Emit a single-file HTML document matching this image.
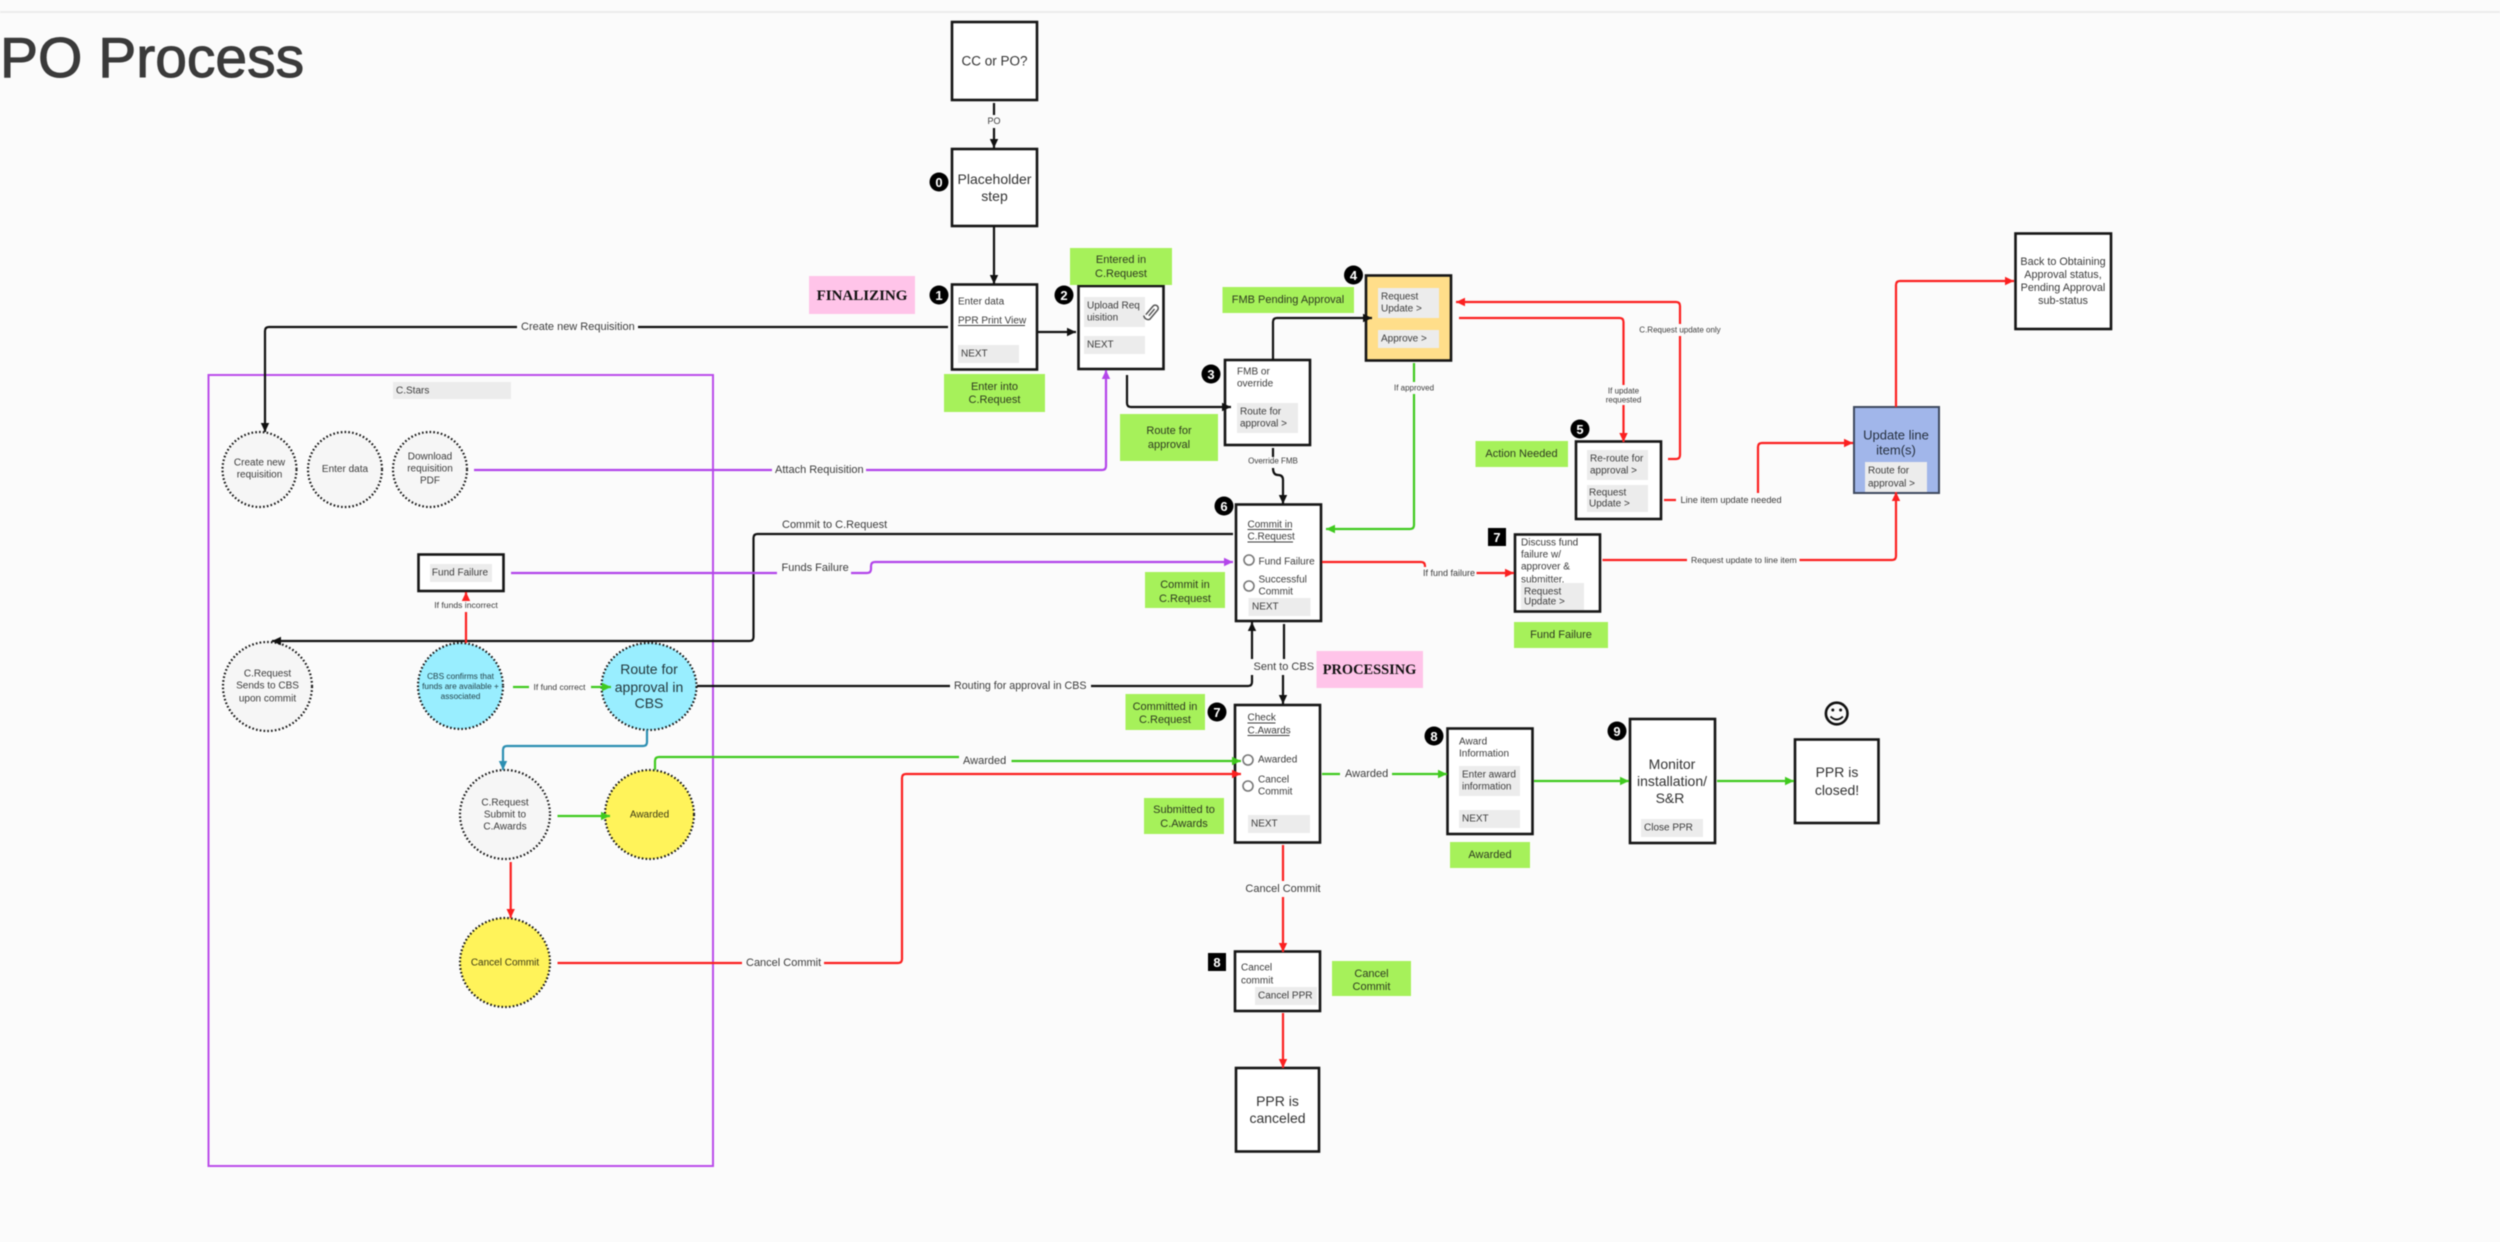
<!DOCTYPE html>
<html><head><meta charset="utf-8"><title>PO Process</title>
<style>
html,body{margin:0;padding:0;background:#fbfbfb;width:2500px;height:1242px;overflow:hidden}
svg{display:block;filter:blur(.55px)}
text{font-family:"Liberation Sans",sans-serif;fill:#3c3c3c;font-size:10px;dominant-baseline:central}
.m{text-anchor:middle}
.g{fill:#a6f15a}
.gt{font-size:11px;fill:#2e3a20;text-anchor:middle}
.b{fill:#fff;stroke:#151515;stroke-width:2.6}
.gr{fill:#ececec}
.l{fill:none;stroke-width:2.2;stroke-linejoin:round}
.k{stroke:#111}.r{stroke:#fb2020}.pu{stroke:#b345ea}.gn{stroke:#3fca1e}.bl{stroke:#2c8fb2}
.c{stroke:#151515;stroke-width:2.2;stroke-dasharray:1.6 2.2;stroke-linecap:butt}
.bd{fill:#000}
.bt{fill:#fff;font-size:13px;font-weight:bold;text-anchor:middle}
.s{font-size:8px}
.big{font-size:14px;text-anchor:middle;fill:#333}
.ser{font-family:"Liberation Serif",serif;font-weight:bold;font-size:15px;fill:#111;text-anchor:middle}
.ul{stroke:#3c3c3c;stroke-width:1}
</style></head><body>
<svg width="2500" height="1242" viewBox="0 0 2500 1242" xmlns="http://www.w3.org/2000/svg">
<defs>
<marker id="ak" markerUnits="userSpaceOnUse" markerWidth="10" markerHeight="10" refX="9" refY="5" orient="auto"><path d="M0 .8L9 5L0 9.2z" fill="#111"/></marker>
<marker id="ar" markerUnits="userSpaceOnUse" markerWidth="10" markerHeight="10" refX="9" refY="5" orient="auto"><path d="M0 .8L9 5L0 9.2z" fill="#fb2020"/></marker>
<marker id="ap" markerUnits="userSpaceOnUse" markerWidth="10" markerHeight="10" refX="9" refY="5" orient="auto"><path d="M0 .8L9 5L0 9.2z" fill="#b345ea"/></marker>
<marker id="ag" markerUnits="userSpaceOnUse" markerWidth="10" markerHeight="10" refX="9" refY="5" orient="auto"><path d="M0 .8L9 5L0 9.2z" fill="#3fca1e"/></marker>
<marker id="ab" markerUnits="userSpaceOnUse" markerWidth="10" markerHeight="10" refX="9" refY="5" orient="auto"><path d="M0 .8L9 5L0 9.2z" fill="#2c8fb2"/></marker>
</defs>
<rect width="2500" height="1242" fill="#fbfbfb"/>
<rect x="0" y="11" width="2500" height="2" fill="#ececec"/>
<text x="0" y="58" style="font-size:57px;fill:#3a3a3a;stroke:#3a3a3a;stroke-width:1">PO Process</text>

<!-- C.Stars container -->
<rect x="208.5" y="375" width="504.5" height="791" fill="none" stroke="#bb4dea" stroke-width="2"/>
<rect class="gr" x="393" y="382" width="118" height="17"/>
<text x="396" y="391">C.Stars</text>

<!-- Boxes -->
<rect class="b" x="952" y="22" width="85" height="78"/>
<text class="big" x="994.5" y="61" style="font-size:13.5px">CC or PO?</text>
<rect class="b" x="952" y="149" width="85" height="77"/>
<text class="big" x="994.5" y="179">Placeholder</text><text class="big" x="994.5" y="196">step</text>

<rect class="b" x="952" y="284.5" width="85" height="85"/>
<text x="958" y="302">Enter data</text>
<text x="958" y="321">PPR Print View</text><path class="ul" d="M958 325.5H1025"/>
<rect class="gr" x="958" y="345" width="61" height="18"/><text x="961" y="354">NEXT</text>

<rect class="b" x="1078.5" y="286" width="85" height="83"/>
<rect class="gr" x="1084" y="297" width="61" height="30"/>
<text x="1087" y="306">Upload Req</text><text x="1087" y="318">uisition</text>
<rect class="gr" x="1084" y="336" width="61" height="18"/><text x="1087" y="345">NEXT</text>
<g transform="rotate(40 1152 312)" fill="none" stroke="#555" stroke-width="1.5"><path d="M1149 318V307a3 3 0 0 1 6 0v12a4.5 4.5 0 0 1-7 1"/><path d="M1152 308v9"/></g>

<rect class="b" x="1225" y="360" width="85" height="85"/>
<text x="1237" y="372">FMB or</text><text x="1237" y="384">override</text>
<rect class="gr" x="1237" y="403" width="61" height="30"/>
<text x="1240" y="412">Route for</text><text x="1240" y="424">approval &gt;</text>

<rect x="1366" y="275.5" width="85" height="85" fill="#ffde8a" stroke="#151515" stroke-width="2.6"/>
<rect class="gr" x="1378" y="288" width="61" height="30"/>
<text x="1381" y="297">Request</text><text x="1381" y="309">Update &gt;</text>
<rect class="gr" x="1378" y="330" width="61" height="18"/><text x="1381" y="339">Approve &gt;</text>

<rect class="b" x="1576" y="441.5" width="85" height="77.5"/>
<rect class="gr" x="1587" y="450" width="61" height="30"/>
<text x="1590" y="459">Re-route for</text><text x="1590" y="471">approval &gt;</text>
<rect class="gr" x="1587" y="485" width="61" height="27"/>
<text x="1589" y="493">Request</text><text x="1589" y="504">Update &gt;</text>

<rect x="1854" y="407" width="85" height="86" fill="#a1b6ea" stroke="#3f4a60" stroke-width="2"/>
<text class="m" x="1896" y="435" style="font-size:13px;fill:#26303f">Update line</text>
<text class="m" x="1896" y="450" style="font-size:13px;fill:#26303f">item(s)</text>
<rect class="gr" x="1865" y="462" width="62" height="30"/>
<text x="1868" y="471">Route for</text><text x="1868" y="484">approval &gt;</text>

<rect class="b" x="2015.5" y="233.5" width="95.5" height="95.5"/>
<text class="m" x="2063" y="262" style="font-size:10.8px">Back to Obtaining</text>
<text class="m" x="2063" y="275" style="font-size:10.8px">Approval status,</text>
<text class="m" x="2063" y="288" style="font-size:10.8px">Pending Approval</text>
<text class="m" x="2063" y="301" style="font-size:10.8px">sub-status</text>

<rect class="b" x="1515" y="534.5" width="85" height="77"/>
<text x="1521" y="543">Discuss fund</text><text x="1521" y="555">failure w/</text><text x="1521" y="567">approver &amp;</text><text x="1521" y="580">submitter.</text>
<rect class="gr" x="1521" y="583" width="63" height="27"/>
<text x="1524" y="592">Request</text><text x="1524" y="602">Update &gt;</text>

<rect class="b" x="1236" y="504.5" width="85" height="116.5"/>
<text x="1247.5" y="525">Commit in</text><path class="ul" d="M1247.5 529.5H1292"/>
<text x="1247.5" y="537">C.Request</text><path class="ul" d="M1247.5 542H1293"/>
<circle cx="1249" cy="560" r="5" fill="#fff" stroke="#777" stroke-width="1.6"/>
<text x="1258.5" y="562">Fund Failure</text>
<circle cx="1249" cy="586" r="5" fill="#fff" stroke="#777" stroke-width="1.6"/>
<text x="1258.5" y="580">Successful</text><text x="1258.5" y="592">Commit</text>
<rect class="gr" x="1248.5" y="598" width="62" height="18"/><text x="1252" y="607">NEXT</text>

<rect class="b" x="1235" y="705" width="85" height="137.5"/>
<text x="1247.5" y="718">Check</text><path class="ul" d="M1247.5 723H1275.5"/>
<text x="1247.5" y="731">C.Awards</text><path class="ul" d="M1247.5 735.5H1289.5"/>
<circle cx="1248" cy="760" r="5" fill="#fff" stroke="#777" stroke-width="1.6"/>
<text x="1258" y="760">Awarded</text>
<circle cx="1248" cy="786" r="5" fill="#fff" stroke="#777" stroke-width="1.6"/>
<text x="1258" y="780">Cancel</text><text x="1258" y="792">Commit</text>
<rect class="gr" x="1248" y="815" width="62" height="18"/><text x="1251" y="824">NEXT</text>

<rect class="b" x="1447.5" y="728.5" width="85" height="105.5"/>
<text x="1459" y="742">Award</text><text x="1459" y="754">Information</text>
<rect class="gr" x="1459" y="766" width="61" height="30"/>
<text x="1462" y="775">Enter award</text><text x="1462" y="787">information</text>
<rect class="gr" x="1459" y="810" width="61" height="18"/><text x="1462" y="819">NEXT</text>

<rect class="b" x="1630" y="719" width="85" height="124"/>
<text class="big" x="1672" y="764">Monitor</text><text class="big" x="1672" y="781">installation/</text><text class="big" x="1670" y="798">S&amp;R</text>
<rect class="gr" x="1641" y="819" width="62" height="18"/><text x="1644" y="828">Close PPR</text>

<rect class="b" x="1795" y="739.5" width="83.5" height="83.5"/>
<text class="big" x="1837" y="772">PPR is</text><text class="big" x="1837" y="790">closed!</text>

<g fill="none" stroke="#111" stroke-width="2.6">
<circle cx="1836.7" cy="713.5" r="10.8"/>
<path d="M1830.5 716.5q6.2 6 12.4 0" stroke-width="1.8"/>
</g>
<circle cx="1832.8" cy="710" r="1.5" fill="#111"/><circle cx="1840.6" cy="710" r="1.5" fill="#111"/>

<rect class="b" x="1235" y="951.5" width="85" height="59.5"/>
<text x="1241" y="968">Cancel</text><text x="1241" y="981">commit</text>
<rect class="gr" x="1255" y="987" width="62" height="18"/><text x="1258" y="996">Cancel PPR</text>

<rect class="b" x="1236" y="1068" width="83" height="83.5"/>
<text class="big" x="1277.5" y="1101">PPR is</text><text class="big" x="1277.5" y="1118">canceled</text>

<rect class="b" x="418.5" y="554.5" width="85" height="36.5"/>
<rect class="gr" x="430" y="564" width="62" height="18"/>
<text class="m" x="460" y="573">Fund Failure</text>

<!-- Circles -->
<ellipse class="c" cx="259.5" cy="469.5" rx="37" ry="37.5" fill="#f6f6f6"/>
<text class="m" x="259.5" y="463">Create new</text><text class="m" x="259.5" y="475">requisition</text>
<ellipse class="c" cx="345" cy="469.5" rx="37" ry="37.5" fill="#f6f6f6"/>
<text class="m" x="345" y="469.5">Enter data</text>
<ellipse class="c" cx="430" cy="469.5" rx="37" ry="37.5" fill="#f6f6f6"/>
<text class="m" x="430" y="457">Download</text><text class="m" x="430" y="469">requisition</text><text class="m" x="430" y="481">PDF</text>
<ellipse class="c" cx="267.5" cy="686.5" rx="44.5" ry="44.5" fill="#f6f6f6"/>
<text class="m" x="267.5" y="674">C.Request</text><text class="m" x="267.5" y="686">Sends to CBS</text><text class="m" x="267.5" y="699">upon commit</text>
<ellipse class="c" cx="460.5" cy="686" rx="42.5" ry="43" fill="#99eeff"/>
<text class="m" x="460.5" y="676" style="font-size:8.3px;fill:#24424a">CBS confirms that</text>
<text class="m" x="460.5" y="686" style="font-size:8.3px;fill:#24424a">funds are available +</text>
<text class="m" x="460.5" y="696" style="font-size:8.3px;fill:#24424a">associated</text>
<ellipse class="c" cx="649" cy="686.5" rx="47.5" ry="43.5" fill="#99eeff"/>
<text class="big" x="649" y="669" style="fill:#24383d">Route for</text><text class="big" x="649" y="687" style="fill:#24383d">approval in</text><text class="big" x="649" y="703" style="fill:#24383d">CBS</text>
<ellipse class="c" cx="505" cy="814.5" rx="45" ry="44.5" fill="#f6f6f6"/>
<text class="m" x="505" y="803">C.Request</text><text class="m" x="505" y="815">Submit to</text><text class="m" x="505" y="827">C.Awards</text>
<ellipse class="c" cx="649.5" cy="814.5" rx="44.5" ry="44.5" fill="#fff35a"/>
<text class="m" x="649.5" y="815" style="fill:#3d3a15">Awarded</text>
<ellipse class="c" cx="505" cy="962.5" rx="45" ry="44.5" fill="#fff35a"/>
<text class="m" x="505" y="963" style="fill:#3d3a15">Cancel Commit</text>

<!-- Connectors black -->
<path class="l k" d="M994 103V115"/><path class="l k" d="M994 128V148" marker-end="url(#ak)"/>
<text class="m s" x="994" y="121" style="font-size:9px">PO</text>
<path class="l k" d="M994 227V284" marker-end="url(#ak)"/>
<path class="l k" d="M1038 332H1076" marker-end="url(#ak)"/>
<path class="l k" d="M948 327H638"/><path class="l k" d="M517 327H269q-4 0-4 4V432" marker-end="url(#ak)"/>
<text x="521" y="327" style="font-size:11px">Create new Requisition</text>
<path class="l k" d="M1127 375V403q0 4 4 4H1231" marker-end="url(#ak)"/>
<path class="l k" d="M1273 360V322q0-4 4-4H1372" marker-end="url(#ak)"/>
<path class="l k" d="M1273 448V457"/><path class="l k" d="M1273 468q0 7 5 7 5 0 5 5V504" marker-end="url(#ak)"/>
<text class="m s" x="1273" y="461">Override FMB</text>
<path class="l k" d="M1233 534H757.5q-4 0-4 4V637q0 4-4 4H272" marker-end="url(#ak)"/>
<text x="782" y="525" style="font-size:11px">Commit to C.Request</text>
<path class="l k" d="M697 686H950"/><path class="l k" d="M1091 686H1248q4 0 4-4V675"/><path class="l k" d="M1252 659V622" marker-end="url(#ak)"/>
<text x="954" y="686" style="font-size:10.7px">Routing for approval in CBS</text>
<path class="l k" d="M1284 624V659"/><path class="l k" d="M1283 675V704" marker-end="url(#ak)"/>
<text x="1253.5" y="667" style="font-size:11px">Sent to CBS</text>

<!-- Purple -->
<path class="l pu" d="M474 470H772"/><path class="l pu" d="M866 470H1102q4 0 4-4V370" marker-end="url(#ap)"/>
<text x="775" y="470" style="font-size:11px">Attach Requisition</text>
<path class="l pu" d="M511 573H777"/><path class="l pu" d="M851 573H867q4 0 4-4v-3q0-4 4-4H1233" marker-end="url(#ap)"/>
<text x="781.5" y="568" style="font-size:11px">Funds Failure</text>

<!-- Green -->
<path class="l gn" d="M1414 363V382"/><path class="l gn" d="M1414 394V525q0 4-4 4H1326" marker-end="url(#ag)"/>
<text class="m s" x="1414" y="388">If approved</text>
<path class="l gn" d="M513 687H529"/><path class="l gn" d="M591 687H611" marker-end="url(#ag)"/>
<text x="533.5" y="687" style="font-size:8.5px">If fund correct</text>
<path class="l gn" d="M557.5 816H610" marker-end="url(#ag)"/>
<path class="l gn" d="M655 770V761q0-4 4-4H959"/><path class="l gn" d="M1011.5 761H1241" marker-end="url(#ag)"/>
<text x="963" y="761" style="font-size:11px">Awarded</text>
<path class="l gn" d="M1322 774H1340"/><path class="l gn" d="M1392 774H1447" marker-end="url(#ag)"/>
<text x="1345" y="774" style="font-size:11px">Awarded</text>
<path class="l gn" d="M1534 781H1629" marker-end="url(#ag)"/>
<path class="l gn" d="M1717 781H1794" marker-end="url(#ag)"/>

<!-- Red -->
<path class="l r" d="M1668 459H1676q4 0 4-4V336"/><path class="l r" d="M1680 324V306q0-4-4-4H1456" marker-end="url(#ar)"/>
<text class="m s" x="1680" y="330">C.Request update only</text>
<path class="l r" d="M1459 318H1619.5q4 0 4 4V385"/><path class="l r" d="M1623.5 405V442" marker-end="url(#ar)"/>
<text class="m s" x="1623.5" y="391">If update</text><text class="m s" x="1623.5" y="400">requested</text>
<path class="l r" d="M1664 500H1676"/>
<text x="1680.5" y="500" style="font-size:9.2px">Line item update needed</text>
<path class="l r" d="M1758 493V447q0-4 4-4H1853" marker-end="url(#ar)"/>
<path class="l r" d="M1896 407V285q0-4 4-4H2014" marker-end="url(#ar)"/>
<path class="l r" d="M1322 562H1421q4 0 4 4V567"/>
<text x="1423" y="573" style="font-size:9px">If fund failure</text>
<path class="l r" d="M1476.5 573H1514" marker-end="url(#ar)"/>
<path class="l r" d="M1602.5 560H1687"/><path class="l r" d="M1799.5 560H1892q4 0 4-4V492" marker-end="url(#ar)"/>
<text x="1691" y="560" style="font-size:8.7px">Request update to line item</text>
<path class="l r" d="M466 643V612"/><path class="l r" d="M466 600V592" marker-end="url(#ar)"/>
<text class="m" x="466" y="605" style="font-size:8.6px">If funds incorrect</text>
<path class="l r" d="M510.7 862V918" marker-end="url(#ar)"/>
<path class="l r" d="M557.5 963H742"/><path class="l r" d="M824 963H898q4 0 4-4V778q0-4 4-4H1241" marker-end="url(#ar)"/>
<text x="746" y="963" style="font-size:11px">Cancel Commit</text>
<path class="l r" d="M1283 845V881"/><path class="l r" d="M1283 897V952" marker-end="url(#ar)"/>
<text class="m" x="1283" y="889" style="font-size:11px">Cancel Commit</text>
<path class="l r" d="M1283 1013V1068" marker-end="url(#ar)"/>

<!-- Blue -->
<path class="l bl" d="M647 730V742q0 4-4 4H507q-4 0-4 4V770" marker-end="url(#ab)"/>

<!-- Green tags -->
<rect class="g" x="1070" y="248" width="102" height="37"/><text class="gt" x="1121" y="260">Entered in</text><text class="gt" x="1121" y="274">C.Request</text>
<rect class="g" x="944" y="374" width="101" height="38"/><text class="gt" x="994.5" y="387">Enter into</text><text class="gt" x="994.5" y="400">C.Request</text>
<rect class="g" x="1120" y="414" width="98" height="47"/><text class="gt" x="1169" y="431">Route for</text><text class="gt" x="1169" y="445">approval</text>
<rect class="g" x="1222.5" y="287" width="131.5" height="26"/><text class="gt" x="1288" y="300">FMB Pending Approval</text>
<rect class="g" x="1475.5" y="441" width="92.5" height="26"/><text class="gt" x="1521.5" y="454">Action Needed</text>
<rect class="g" x="1514" y="622" width="94" height="26"/><text class="gt" x="1561" y="635">Fund Failure</text>
<rect class="g" x="1145" y="572" width="80" height="36"/><text class="gt" x="1185" y="585">Commit in</text><text class="gt" x="1185" y="599">C.Request</text>
<rect class="g" x="1125.5" y="694" width="79.5" height="36"/><text class="gt" x="1165" y="707">Committed in</text><text class="gt" x="1165" y="720">C.Request</text>
<rect class="g" x="1144" y="798" width="80" height="36"/><text class="gt" x="1184" y="810">Submitted to</text><text class="gt" x="1184" y="824">C.Awards</text>
<rect class="g" x="1450" y="842" width="80" height="26"/><text class="gt" x="1490" y="855">Awarded</text>
<rect class="g" x="1332" y="961" width="79" height="35"/><text class="gt" x="1371.5" y="974">Cancel</text><text class="gt" x="1371.5" y="987">Commit</text>

<!-- Pink tags -->
<rect x="809" y="276" width="106" height="38" fill="#ffc4e9"/><text class="ser" x="862" y="296">FINALIZING</text>
<rect x="1316.5" y="651" width="106.5" height="37" fill="#ffc4e9"/><text class="ser" x="1369.5" y="670" style="font-size:14.4px">PROCESSING</text>

<!-- Badges -->
<circle class="bd" cx="939" cy="182" r="9.5"/><text class="bt" x="939" y="182.5">0</text>
<circle class="bd" cx="939" cy="295" r="9.5"/><text class="bt" x="939" y="295.5">1</text>
<circle class="bd" cx="1064" cy="295" r="9.5"/><text class="bt" x="1064" y="295.5">2</text>
<circle class="bd" cx="1211" cy="374" r="9.5"/><text class="bt" x="1211" y="374.5">3</text>
<circle class="bd" cx="1353.5" cy="275" r="9.5"/><text class="bt" x="1353.5" y="275.5">4</text>
<circle class="bd" cx="1580" cy="429" r="9.5"/><text class="bt" x="1580" y="429.5">5</text>
<circle class="bd" cx="1224" cy="506" r="9.5"/><text class="bt" x="1224" y="506.5">6</text>
<circle class="bd" cx="1217" cy="712" r="9.5"/><text class="bt" x="1217" y="712.5">7</text>
<circle class="bd" cx="1434" cy="736" r="9.5"/><text class="bt" x="1434" y="736.5">8</text>
<circle class="bd" cx="1617" cy="731" r="9.5"/><text class="bt" x="1617" y="731.5">9</text>
<rect class="bd" x="1488" y="528" width="18" height="18"/><text class="bt" x="1497" y="537.5">7</text>
<rect class="bd" x="1208" y="953" width="18" height="18"/><text class="bt" x="1217" y="962.5">8</text>
</svg>
</body></html>
